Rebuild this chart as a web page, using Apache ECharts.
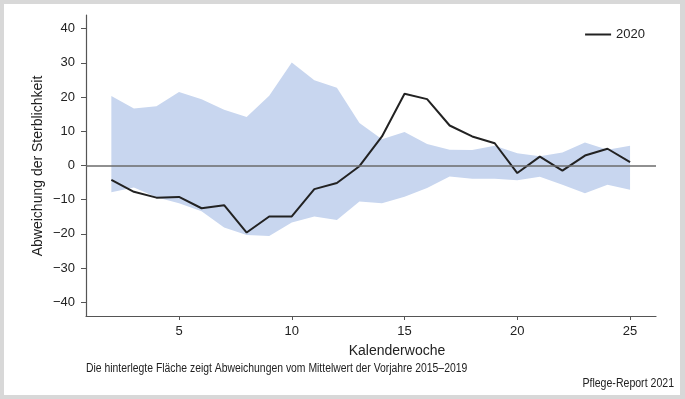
<!DOCTYPE html>
<html>
<head>
<meta charset="utf-8">
<script src="https://cdn.jsdelivr.net/npm/echarts@6/dist/echarts.min.js"></script>
<style>
html, body { margin: 0; padding: 0; background: #d8d8d8; }
#chart { position: absolute; left: 0; top: 0; width: 685px; height: 399px; }
</style>
</head>
<body>
<div id="chart"></div>
<script>
var weeks = [2, 3, 4, 5, 6, 7, 8, 9, 10, 11, 12, 13, 14, 15, 16, 17, 18, 19, 20, 21, 22, 23, 24, 25];
var line2020 = [-4.2, -7.7, -9.4, -9.2, -12.5, -11.6, -19.6, -14.9, -14.9, -6.9, -5.1, -0.2, 8.5, 21.0, 19.4, 11.7, 8.5, 6.5, -2.2, 2.6, -1.5, 2.9, 4.9, 1.0];
var bandHigh = [20.3, 16.7, 17.3, 21.5, 19.4, 16.3, 14.2, 20.4, 30.1, 24.9, 22.7, 12.4, 7.7, 9.8, 6.3, 4.6, 4.5, 5.8, 3.6, 2.7, 3.8, 6.7, 4.6, 5.8];
var bandLow = [-7.8, -6.4, -9.3, -11.0, -13.4, -18.1, -20.3, -20.6, -16.7, -14.9, -15.9, -10.5, -11.0, -9.1, -6.6, -3.2, -3.9, -3.9, -4.3, -3.3, -5.6, -8.1, -5.6, -7.1];
var xTicks = [5, 10, 15, 20, 25];
var yTicks = [-40, -30, -20, -10, 0, 10, 20, 30, 40];

var font = 'Liberation Sans, Arial, sans-serif';

var bandData = weeks.map(function (w, i) { return [w, bandLow[i], bandHigh[i]]; });
var linePairs = weeks.map(function (w, i) { return [w, line2020[i]]; });

// whole band drawn as one polygon, from the first item
function renderBand(params, api) {
    if (params.dataIndex !== 0) return null;
    var top = [], bottom = [];
    for (var i = 0; i < bandData.length; i++) {
        top.push(api.coord([bandData[i][0], bandData[i][2]]));
        bottom.unshift(api.coord([bandData[i][0], bandData[i][1]]));
    }
    return {
        type: 'polygon',
        shape: { points: top.concat(bottom) },
        style: { fill: '#c8d6ef' },
        silent: true
    };
}

var myChart = echarts.init(document.getElementById('chart'));
var option = {
    backgroundColor: '#d8d8d8',
    animation: false,
    graphic: [
        { type: 'rect', left: 4, top: 4, shape: { width: 676, height: 391 }, style: { fill: '#fff' }, z: -10 },
        { type: 'text', x: 38, y: 166, rotation: Math.PI / 2,
          style: { text: 'Abweichung der Sterblichkeit', font: '14px ' + font, fill: '#222', align: 'center', verticalAlign: 'middle' } },
        { type: 'text', x: 397, y: 351,
          style: { text: 'Kalenderwoche', font: '14px ' + font, fill: '#222', align: 'center', verticalAlign: 'middle' } },
        { type: 'text', x: 86, y: 369, scaleX: 0.866,
          style: { text: 'Die hinterlegte Fläche zeigt Abweichungen vom Mittelwert der Vorjahre 2015–2019', font: '12px ' + font, fill: '#222', align: 'left', verticalAlign: 'middle' } },
        { type: 'text', x: 674, y: 384, scaleX: 0.88,
          style: { text: 'Pflege-Report 2021', font: '12px ' + font, fill: '#222', align: 'right', verticalAlign: 'middle' } }
    ],
    grid: { left: 86, right: 29, top: 15, bottom: 83 },
    legend: {
        data: ['2020'],
        right: 35, top: 23,
        icon: 'rect', itemWidth: 26, itemHeight: 2, itemGap: 6,
        textStyle: { fontFamily: font, fontSize: 13, color: '#222' }
    },
    xAxis: {
        type: 'value', min: 0.876, max: 26.15,
        axisLine: { onZero: false, lineStyle: { color: '#555', width: 1.2 } },
        axisTick: { customValues: xTicks, length: 4, lineStyle: { color: '#555' } },
        axisLabel: { customValues: xTicks, margin: 9, fontFamily: font, fontSize: 13, color: '#222' },
        splitLine: { show: false }
    },
    yAxis: {
        type: 'value', min: -44, max: 44,
        axisLine: { show: true, lineStyle: { color: '#555', width: 1.2 } },
        axisTick: { show: true, customValues: yTicks, length: 5, lineStyle: { color: '#555' } },
        axisLabel: { customValues: yTicks, margin: 11, fontFamily: font, fontSize: 13, color: '#222',
            formatter: function (v) { return v < 0 ? '\u2212' + Math.abs(v) : String(v); } },
        splitLine: { show: false }
    },
    series: [
        {
            name: 'band', type: 'custom', data: bandData, renderItem: renderBand,
            encode: { x: 0, y: [1, 2] }, silent: true,
            markLine: {
                silent: true, symbol: 'none', label: { show: false },
                lineStyle: { color: '#6b6b6b', width: 1.5, type: 'solid' },
                data: [{ yAxis: 0 }]
            }
        },
        {
            name: '2020', type: 'line', data: linePairs,
            symbol: 'none', lineStyle: { color: '#222', width: 2 }, itemStyle: { color: '#222' }
        }
    ]
};
myChart.setOption(option);
</script>
</body>
</html>
